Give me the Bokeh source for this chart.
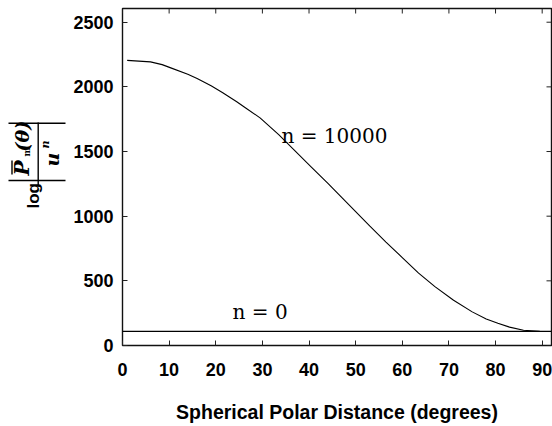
import math
from bokeh.plotting import figure
from bokeh.layouts import row
from bokeh.models import Span, FixedTicker, ColumnDataSource, Range1d
from bokeh.core.properties import value
from bokeh.embed import file_html
from bokeh.resources import INLINE

# ---- data ----
theta = [1, 6, 8.5, 10.5, 14, 16, 19, 21.5, 24.5, 26.5, 29.5, 33.5, 37, 40.5, 44,
         47, 50, 53, 56.5, 60, 63.5, 67, 71, 75, 78, 80.5, 83, 86, 89.5]
log_n10000 = [2205, 2193, 2172, 2145, 2098, 2065, 2008, 1955, 1885, 1835, 1760, 1630,
              1505, 1380, 1255, 1145, 1035, 925, 800, 680, 560, 455, 350, 260, 205,
              172, 142, 118, 109]
log_n0 = 109
x_ticks = [0, 10, 20, 30, 40, 50, 60, 70, 80, 90]
y_ticks = [0, 500, 1000, 1500, 2000, 2500]
curve_labels = ["n = 10000", "n = 0"]
label_x = [34.1, 23.6]
label_y = [1621, 256]

X_END, Y_END = 92, 2606
FRAME_W, FRAME_H = 430, 337

# ---------------- main plot ----------------
p = figure(width=482, height=426, output_backend="svg", toolbar_location=None,
           x_range=Range1d(0, X_END), y_range=Range1d(0, Y_END),
           min_border_left=51, min_border_right=1, min_border_top=8,
           min_border_bottom=81)
p.background_fill_color = "white"
p.border_fill_color = "white"
p.outline_line_color = "#111111"
p.outline_line_width = 1.4
p.xgrid.visible = False
p.ygrid.visible = False

tick_font = "Liberation Sans"

xa = p.xaxis[0]
xa.ticker = FixedTicker(ticks=x_ticks)
xa.major_tick_in = 5
xa.major_tick_out = 0
xa.major_tick_line_color = "#222222"
xa.minor_tick_line_color = None
xa.axis_line_color = None
xa.major_label_standoff = 17
xa.major_label_text_font = tick_font
xa.major_label_text_font_style = "bold"
xa.major_label_text_font_size = "18px"
xa.major_label_text_color = "black"
xa.axis_label = "Spherical Polar Distance (degrees)"
xa.axis_label_text_font = tick_font
xa.axis_label_text_font_style = "bold"
xa.axis_label_text_font_size = "19.5px"
xa.axis_label_standoff = 22
xa.axis_label_text_color = "black"

ya = p.yaxis[0]
ya.ticker = FixedTicker(ticks=y_ticks)
ya.major_tick_in = 5
ya.major_tick_out = 0
ya.major_tick_line_color = "#222222"
ya.minor_tick_line_color = None
ya.axis_line_color = None
ya.major_label_standoff = 9
ya.major_label_text_font = tick_font
ya.major_label_text_font_style = "bold"
ya.major_label_text_font_size = "18px"
ya.major_label_text_color = "black"

# inward tick marks on the top and right edges of the frame
tl_y = 5 * Y_END / FRAME_H
tl_x = 5 * X_END / FRAME_W
p.segment(x0=x_ticks, x1=x_ticks, y0=[Y_END] * len(x_ticks),
          y1=[Y_END - tl_y] * len(x_ticks), line_color="#222222", line_width=1)
p.segment(x0=[X_END] * len(y_ticks), x1=[X_END - tl_x] * len(y_ticks),
          y0=y_ticks, y1=y_ticks, line_color="#222222", line_width=1)

# curves
src = ColumnDataSource(dict(x=theta, y=log_n10000))
p.line("x", "y", source=src, line_color="black", line_width=1.1)
p.add_layout(Span(location=log_n0, dimension="width", line_color="black",
                  line_width=1.1))

lsrc = ColumnDataSource(dict(x=label_x, y=label_y, t=curve_labels))
p.text("x", "y", text="t", source=lsrc, text_font=value("DejaVu Serif"),
       text_font_size="20px", text_color="black", text_baseline="alphabetic")

# ---------------- y-axis title panel: log | P̄_m(θ) / u^n | ----------------
# the row layout aligns this panel's frame with the main frame (page y 8..345),
# so the range below makes its y coordinates equal page pixels.
q = figure(width=70, height=426, output_backend="svg", toolbar_location=None,
           x_range=Range1d(0, 70), y_range=Range1d(345, 8),
           x_axis_type=None, y_axis_type=None,
           min_border_left=0, min_border_right=0, min_border_top=8,
           min_border_bottom=81)
q.outline_line_color = None
q.background_fill_color = "white"
q.border_fill_color = "white"
q.xgrid.visible = False
q.ygrid.visible = False

pieces = ["log", "P", "m", "(θ)", "u", "n"]
px = [33, 21, 26, 21, 51, 44.5]
py = [208, 175, 156, 151, 166, 148]
pfont = ["Liberation Sans", "DejaVu Serif", "DejaVu Serif", "DejaVu Serif",
         "DejaVu Serif", "DejaVu Serif"]
pstyle = ["bold", "bold italic", "bold", "bold italic", "bold italic", "bold italic"]
psize = ["17px", "20px", "9px", "19px", "19px", "11px"]
for t, x, y, f, s, z in zip(pieces, px, py, pfont, pstyle, psize):
    q.text(x=[x], y=[y], text=[t], angle=math.pi / 2, text_font=value(f),
           text_font_style=s, text_font_size=z, text_align="left",
           text_baseline="middle", text_color="black")

seg_x0 = [8, 8, 37.7, 11.5]
seg_x1 = [65, 65, 37.7, 11.5]
seg_y0 = [122.7, 180, 122, 160]
seg_y1 = [122.7, 180, 186, 174]
seg_w = [1.6, 1.6, 1.4, 1.4]
q.segment(x0=seg_x0, x1=seg_x1, y0=seg_y0, y1=seg_y1, line_color="black",
          line_width=seg_w)

layout = row(q, p)
open("out.html", "w").write(file_html(layout, INLINE))
